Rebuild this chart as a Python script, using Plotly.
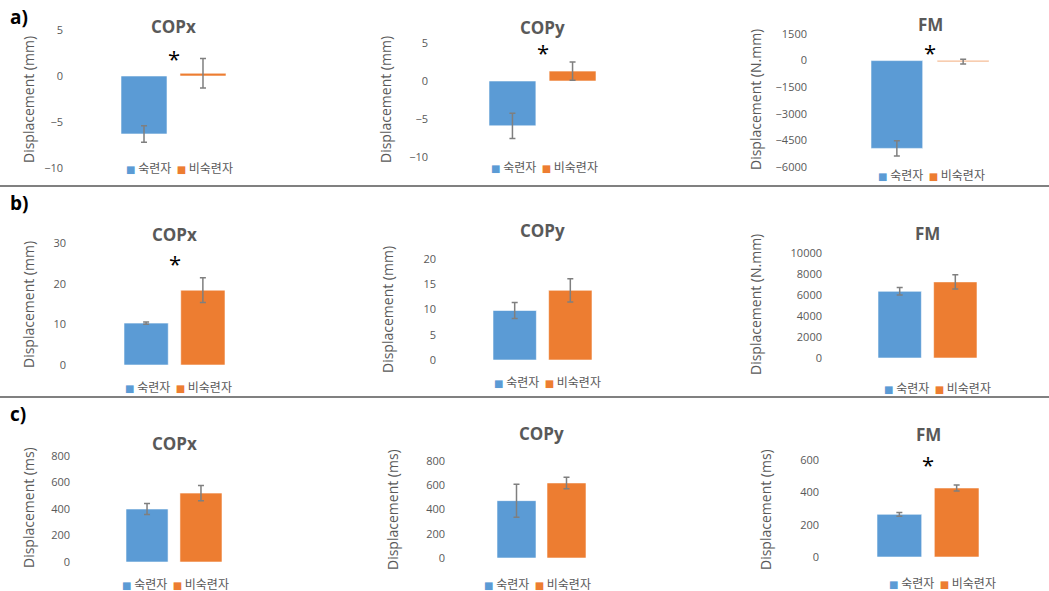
import plotly.graph_objects as go

# ---------------- data ----------------
groups = ["숙련자", "비숙련자"]
category = ["Group"]

titles = ["COPx", "COPy", "FM", "COPx", "COPy", "FM", "COPx", "COPy", "FM"]
ylabels = ["Displacement (mm)", "Displacement (mm)", "Displacement (N.mm)",
           "Displacement (mm)", "Displacement (mm)", "Displacement (N.mm)",
           "Displacement (ms)", "Displacement (ms)", "Displacement (ms)"]
skilled_mean = [-6.3, -5.9, -4950, 10.3, 9.8, 6350, 400, 473, 264]
skilled_err = [0.9, 1.65, 430, 0.3, 1.6, 360, 41, 136, 12]
unskilled_mean = [0.3, 1.3, -60, 18.4, 13.8, 7250, 520, 619, 427]
unskilled_err = [1.6, 1.2, 130, 3.05, 2.3, 680, 57, 48, 19]
y_min = [-10, -10, -6000, 0, 0, 0, 0, 0, 0]
y_max = [5, 5, 1500, 30, 20, 10000, 800, 800, 600]
y_step = [5, 5, 1500, 10, 5, 2000, 200, 200, 200]
sig_y = [2.0, 3.8, 500, 25, None, None, None, None, 573]
panel_labels = ["a)", "b)", "c)"]

# ---------------- layout (pixel geometry) ----------------
W, H = 1049, 591
BARGAP, GROUPGAP = 0.45, 0.22
cluster_lr = [(121, 226), (489, 596), (871, 989),
              (124, 225), (493, 592), (878, 977),
              (126, 222), (497, 586), (877, 979)]
label_right = [60, 425, 804, 63, 433, 819, 67, 442, 816]
y_px = [(30, 168), (43, 157), (34, 167),
        (243, 365), (259, 360), (253, 358),
        (456, 562), (461, 558), (460, 557)]
title_py = [26, 27, 25, 234, 231, 233, 443, 433, 434]
ytitle_pos = [(28, 100), (385, 100), (755, 100),
              (28, 305), (387, 310), (755, 305),
              (28, 508), (392, 510), (765, 510)]
legend_pos = [(179, 167), (544, 166), (931, 174),
              (178, 386), (547, 381), (937, 387),
              (175, 583), (537, 583), (942, 582)]
panel_label_py = [17, 203, 414]
sep_py = [186, 397]

BLUE = "#5B9BD5"
ORANGE = "#ED7D31"
GREY = "#595959"
FONT = "Open Sans, Noto Sans CJK KR, sans-serif"


def xp(px):
    return px / W


def yp(py):
    return 1 - py / H


fig = go.Figure()
annotations = []
layout = {}
colors = [BLUE, ORANGE]

for i in range(9):
    n = "" if i == 0 else str(i + 1)
    xa, ya = "x" + n, "y" + n
    L, R = cluster_lr[i]
    c = (L + R) / 2
    slot = (R - L) / (2 - GROUPGAP)
    unit = 2 * slot / (1 - BARGAP)          # pixels per category unit
    DL = label_right[i] + 6
    DR = min(R + 50, W - 1)
    r0 = -(c - DL) / unit
    r1 = r0 + (DR - DL) / unit
    top, bot = y_px[i]

    for g, (means, errs) in enumerate([(skilled_mean, skilled_err), (unskilled_mean, unskilled_err)]):
        fig.add_trace(go.Bar(
            x=category, y=[means[i]], name=groups[g], showlegend=False,
            marker=dict(color=colors[g], line=dict(color="rgba(255,255,255,0.7)", width=0.8)),
            error_y=dict(type="data", array=[errs[i]], color="#7F7F7F", thickness=1.5, width=3),
            xaxis=xa, yaxis=ya, hoverinfo="name+y"))

    layout["xaxis" + n] = dict(domain=[xp(DL), xp(DR)], anchor=ya, range=[r0, r1],
                               showticklabels=False, showgrid=False, automargin=False,
                               zeroline=False, showline=False, fixedrange=True)
    layout["yaxis" + n] = dict(domain=[yp(bot), yp(top)], anchor=xa, range=[y_min[i], y_max[i]],
                               tick0=y_min[i], dtick=y_step[i], tickformat="d",
                               showgrid=False, zeroline=False, automargin=False,
                               showline=False, ticks="", ticklabelstandoff=2,
                               tickfont=dict(size=11, color=GREY, family=FONT))

    # legend (series key) rendered as text
    lx, ly = legend_pos[i]
    key = "".join(
        '<span style="font-family:DejaVu Sans;font-size:10px;color:%s">■</span> %s%s'
        % (colors[g], groups[g], "  " if g == 0 else "")
        for g in range(2))
    annotations.append(dict(text=key, x=xp(lx), y=yp(ly), xref="paper", yref="paper",
                            showarrow=False, xanchor="center", yanchor="middle",
                            font=dict(size=12, color=GREY, family="Noto Sans CJK KR")))

    annotations.append(dict(text="<b>" + titles[i] + "</b>", x=xp(c), y=yp(title_py[i]),
                            xref="paper", yref="paper", showarrow=False, xanchor="center",
                            yanchor="middle", font=dict(size=17, color=GREY, family=FONT)))
    tx, ty = ytitle_pos[i]
    annotations.append(dict(text=ylabels[i], x=xp(tx), y=yp(ty), xref="paper", yref="paper",
                            showarrow=False, textangle=-90, xanchor="center", yanchor="middle",
                            font=dict(size=14, color=GREY, family=FONT)))
    if sig_y[i] is not None:
        annotations.append(dict(text="*", x=category[0], y=sig_y[i], xref=xa, yref=ya,
                                showarrow=False, xanchor="center", yanchor="middle",
                                font=dict(size=22, color="black", family=FONT)))

for k in range(3):
    annotations.append(dict(text="<b>" + panel_labels[k] + "</b>", x=xp(8), y=yp(panel_label_py[k]),
                            xref="paper", yref="paper", showarrow=False, xanchor="left",
                            yanchor="middle", font=dict(size=19, color="black", family=FONT)))

shapes = [dict(type="line", xref="paper", yref="paper", x0=0, x1=1, y0=yp(s), y1=yp(s),
               line=dict(color="#808080", width=2)) for s in sep_py]

fig.update_layout(**layout)
fig.update_layout(template="none", width=W, height=H, autosize=False,
                  margin=dict(l=0, r=0, t=0, b=0, pad=0),
                  paper_bgcolor="white", plot_bgcolor="white", showlegend=False,
                  barmode="group", bargap=BARGAP, bargroupgap=GROUPGAP,
                  annotations=annotations, shapes=shapes,
                  font=dict(family=FONT, color=GREY))

fig.write_html("out.html", config={"displayModeBar": False},
               post_script="document.body.style.margin='0';document.body.style.overflow='hidden';")
